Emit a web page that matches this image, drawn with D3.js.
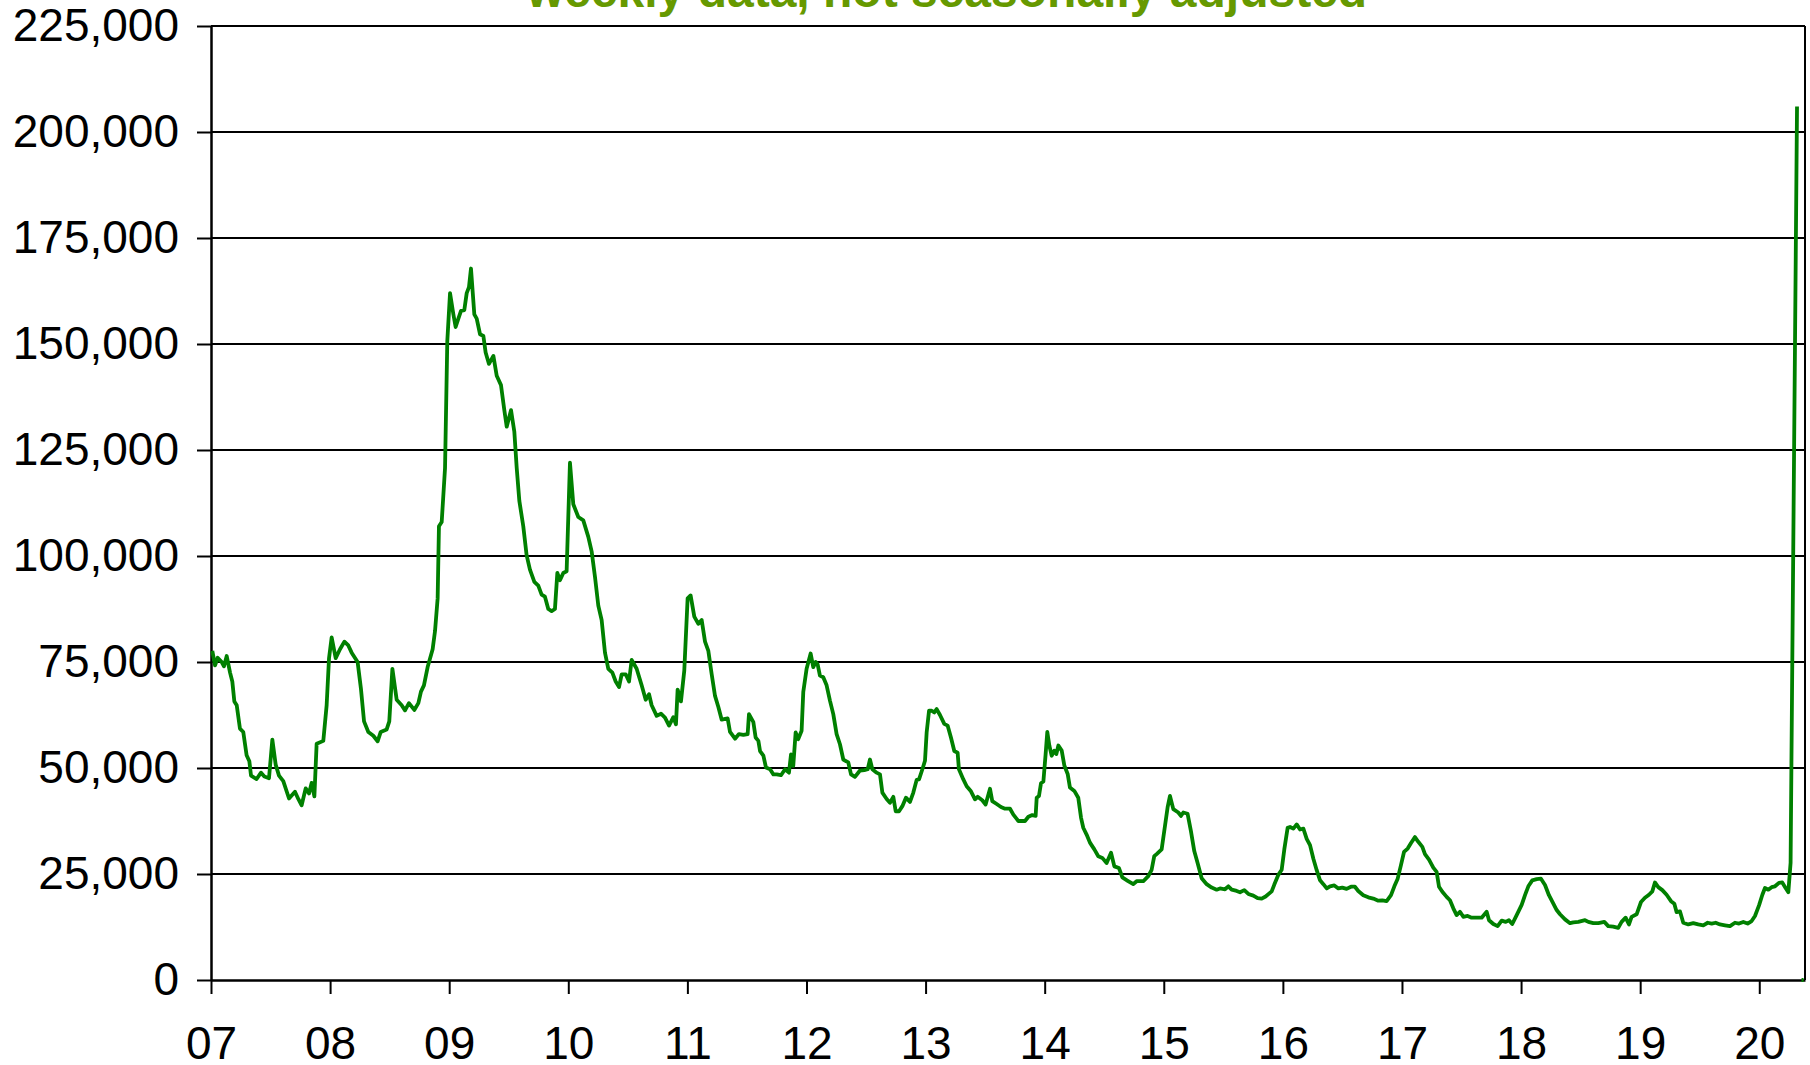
<!DOCTYPE html>
<html lang="en">
<head>
<meta charset="utf-8">
<title>Weekly claims</title>
<script src="https://d3js.org/d3.v7.min.js"></script>
<style>
  body { margin: 0; background: #fff; }
  svg text { font-family: "Liberation Sans", Arial, sans-serif; }
</style>
</head>
<body>
<div id="chart"></div>
<script type="text/javascript">
// weekly readings, [offset within the year, claims in thousands]
var claims2007 = [[.011,77.6],[.034,74.2],[.056,76.0],[.090,75.0],[.109,74.0],[.132,76.4],[.160,72.5],[.179,70.4],[.196,65.7],[.216,64.8],[.243,59.3],[.271,58.5],[.299,53.0],[.322,51.6],[.336,48.2],[.383,47.4],[.420,48.9],[.448,48.0],[.487,47.6],[.515,56.7],[.543,50.8],[.571,48.2],[.607,46.9],[.655,42.8],[.705,44.4],[.733,42.7],[.761,41.2],[.795,45.2],[.823,44.0],[.845,46.5],[.868,43.3],[.887,55.7],[.943,56.4],[.971,64.8],[.991,75.9]];
var claims2008 = [[.013,80.8],[.047,75.9],[.083,78.0],[.120,79.8],[.153,78.9],[.181,77.2],[.231,75.0],[.259,68.7],[.285,61.0],[.321,58.5],[.363,57.6],[.399,56.3],[.425,58.5],[.475,59.1],[.497,61.0],[.523,73.4],[.559,66.1],[.601,64.8],[.629,63.6],[.662,65.3],[.707,63.7],[.741,65.3],[.763,68.0],[.788,69.5],[.819,73.8],[.861,78.0],[.881,82.3],[.903,90.0],[.914,107],[.937,108],[.965,120.7],[.984,150.6]];
var claims2009 = [[.007,162],[.035,157],[.054,154],[.077,156],[.099,157.8],[.127,158],[.147,162],[.166,163.4],[.183,167.8],[.211,157],[.231,156],[.259,152.3],[.287,151.9],[.306,148],[.334,145.3],[.371,147.2],[.399,142.5],[.435,140.3],[.463,134.4],[.483,130.5],[.519,134.4],[.547,129.3],[.567,120.7],[.589,113],[.622,107],[.650,100.2],[.678,96.8],[.715,93.9],[.748,93.0],[.776,90.9],[.804,90.4],[.832,87.5],[.860,87.0],[.888,87.5],[.908,96.0],[.930,94.3],[.958,96.0],[.986,96.4]];
var claims2010 = [[.014,122],[.042,112.2],[.084,109.2],[.126,108.4],[.168,104.5],[.196,101.1],[.224,95.1],[.252,88.3],[.280,84.9],[.308,77.2],[.336,73.4],[.370,72.5],[.398,70.4],[.426,69.1],[.448,72.1],[.482,72.1],[.510,70.4],[.532,75.5],[.574,73.4],[.616,69.5],[.650,66.1],[.678,67.4],[.700,64.8],[.742,62.3],[.778,62.8],[.812,61.9],[.846,60.0],[.882,62.0],[.904,60.3],[.918,68.5],[.946,65.7],[.974,73.0]];
var claims2011 = [[.002,90.0],[.027,90.7],[.058,85.7],[.092,84.0],[.120,84.9],[.148,79.8],[.176,77.6],[.204,72.1],[.232,67.0],[.260,64.4],[.288,61.4],[.338,61.7],[.358,58.5],[.400,56.9],[.433,58.0],[.470,57.8],[.506,58.0],[.517,62.7],[.554,60.8],[.573,57.2],[.596,56.4],[.610,54.0],[.638,52.9],[.660,50.1],[.694,49.7],[.722,48.5],[.750,48.5],[.786,48.3],[.820,49.7],[.853,48.9],[.870,53.2],[.889,50.5],[.909,58.4],[.931,56.8],[.959,58.8],[.973,67.9]];
var claims2012 = [[.001,73.4],[.035,77.0],[.057,73.8],[.077,75.0],[.094,74.4],[.113,71.8],[.141,71.4],[.169,69.5],[.197,65.9],[.225,62.7],[.253,58.0],[.281,55.6],[.309,52.0],[.351,51.3],[.374,48.5],[.407,47.9],[.449,49.4],[.486,49.5],[.514,49.7],[.533,52.0],[.553,49.7],[.589,48.9],[.617,48.5],[.637,44.2],[.673,42.7],[.701,41.8],[.729,43.2],[.749,39.8],[.777,39.8],[.805,41.0],[.835,43.0],[.869,42.0],[.897,44.2],[.925,47.2],[.945,47.3],[.973,49.7],[.995,51.7]];
var claims2013 = [[.009,58.4],[.029,63.5],[.051,63.5],[.073,63.1],[.093,63.9],[.121,62.5],[.157,60.4],[.185,60.0],[.213,57.2],[.241,54.0],[.269,53.6],[.280,49.7],[.317,47.3],[.345,45.7],[.381,44.5],[.415,42.6],[.437,43.2],[.476,42.4],[.504,41.4],[.541,45.1],[.560,42.2],[.597,41.5],[.633,40.8],[.667,40.4],[.709,40.4],[.737,39.0],[.765,38.0],[.779,37.5],[.835,37.5],[.863,38.5],[.896,38.9],[.924,38.7],[.933,43.0],[.952,43.4],[.969,46.4],[.989,46.8]];
var claims2014 = [[.008,53.3],[.022,58.5],[.039,55.3],[.059,52.9],[.081,54.1],[.098,53.3],[.115,55.3],[.143,54.1],[.165,50.6],[.193,48.6],[.212,45.4],[.249,44.6],[.282,43.0],[.305,38.3],[.324,35.9],[.352,34.3],[.380,32.4],[.417,30.8],[.450,29.2],[.484,28.8],[.520,27.6],[.557,30.0],[.585,26.8],[.624,26.4],[.652,24.2],[.697,23.4],[.744,22.6],[.772,23.3],[.828,23.3],[.870,24.5],[.898,26.0],[.920,29.2],[.940,29.7],[.982,30.8]];
var claims2015 = [[.010,36.3],[.032,40.7],[.052,43.4],[.080,40.3],[.122,39.5],[.144,38.7],[.164,39.5],[.200,39.2],[.228,35.1],[.256,30.4],[.284,27.6],[.318,24.0],[.360,22.6],[.402,21.8],[.444,21.3],[.472,21.6],[.514,21.4],[.542,22.1],[.570,21.3],[.612,21.0],[.640,20.7],[.676,21.2],[.710,20.3],[.752,19.9],[.788,19.3],[.822,19.2],[.855,19.7],[.906,20.9],[.928,22.5],[.962,24.8],[.990,26.0]];
var claims2016 = [[.012,30.8],[.040,35.9],[.060,36.1],[.088,35.7],[.116,36.7],[.144,35.5],[.172,35.7],[.200,33.3],[.228,31.8],[.256,28.6],[.284,25.9],[.312,23.5],[.340,22.6],[.368,21.6],[.396,22.1],[.432,22.3],[.466,21.6],[.499,21.8],[.535,21.5],[.572,22.0],[.605,22.0],[.633,21.0],[.675,20.0],[.717,19.5],[.759,19.2],[.801,18.7],[.835,18.8],[.871,18.6],[.908,20.0],[.936,22.1],[.964,23.9],[.989,26.8]];
var claims2017 = [[.017,30.2],[.048,31.0],[.076,32.3],[.109,33.7],[.137,32.6],[.171,31.4],[.193,29.7],[.227,28.4],[.263,26.5],[.291,25.5],[.311,22.0],[.339,20.8],[.375,19.6],[.403,18.8],[.431,16.9],[.459,15.3],[.487,16.1],[.515,14.9],[.551,15.1],[.585,14.7],[.627,14.7],[.669,14.7],[.711,16.1],[.731,14.1],[.767,13.2],[.803,12.7],[.837,14.0],[.871,13.7],[.898,14.1],[.926,13.2],[.963,15.3]];
var claims2018 = [[.005,17.7],[.033,20.0],[.061,22.1],[.094,23.5],[.131,23.8],[.167,23.9],[.201,22.4],[.234,20.0],[.271,18.0],[.299,16.5],[.327,15.5],[.369,14.3],[.411,13.4],[.439,13.6],[.481,13.7],[.537,14.1],[.565,13.7],[.607,13.4],[.649,13.4],[.699,13.7],[.732,12.7],[.774,12.6],[.816,12.3],[.844,13.7],[.878,14.7],[.906,13.1],[.928,14.9],[.970,15.5]];
var claims2019 = [[.007,18.4],[.040,19.4],[.074,20.1],[.102,20.9],[.124,23.0],[.152,21.9],[.186,21.2],[.222,20.1],[.259,18.6],[.287,18.0],[.306,16.0],[.334,16.2],[.362,13.5],[.404,13.1],[.446,13.4],[.488,13.1],[.530,12.9],[.567,13.5],[.600,13.3],[.634,13.5],[.670,13.1],[.712,12.9],[.754,12.7],[.796,13.5],[.830,13.3],[.866,13.7],[.902,13.3],[.936,13.9],[.964,15.1],[.998,17.6]];
var claims2020 = [[.026,20.1],[.048,21.7],[.076,21.3],[.104,21.9],[.132,22.1],[.165,22.9],[.193,23.0],[.221,21.7],[.244,20.7],[.263,27.6],[.317,206],[.336,null],[.355,0],[.372,0]];

var years = [2007,2008,2009,2010,2011,2012,2013,2014,2015,2016,2017,2018,2019,2020];
var yearData = [claims2007,claims2008,claims2009,claims2010,claims2011,claims2012,claims2013,claims2014,claims2015,claims2016,claims2017,claims2018,claims2019,claims2020];
var yTicks = [0,25,50,75,100,125,150,175,200,225]; // thousands
var title = "weekly data, not seasonally adjusted";

// flatten into one weekly series
var series = [];
years.forEach(function(yr, i){
    yearData[i].forEach(function(p){ series.push({t: yr + p[0], v: p[1]}); });
});

var svg = d3.select('#chart').append("svg").attr("width", 1810).attr("height", 1065);

var x = d3.scaleLinear().domain([2007, 2020.384]).range([211, 1805]);
var y = d3.scaleLinear().domain([0, 225]).range([980, 26]);

// horizontal grid lines
svg.append("g").selectAll("line").data(yTicks.slice(1)).join("line")
    .attr("x1", x.range()[0]).attr("x2", x.range()[1])
    .attr("y1", function(d){ return y(d); }).attr("y2", function(d){ return y(d); })
    .attr("stroke", "#000").attr("stroke-width", 2);

// right frame
svg.append("line").attr("x1", 1805).attr("x2", 1805).attr("y1", y(225)).attr("y2", y(0))
    .attr("stroke", "#000").attr("stroke-width", 2);

var yAxis = svg.append("g").attr("transform", "translate(" + x.range()[0] + ",0)")
    .call(d3.axisLeft(y).tickValues(yTicks).tickSize(14).tickSizeOuter(0).tickPadding(18)
        .tickFormat(function(d){ return d3.format(",")(d * 1000); }));

var xAxis = svg.append("g").attr("transform", "translate(0," + y(0) + ")")
    .call(d3.axisBottom(x).tickValues(years).tickSize(14).tickSizeOuter(0).tickPadding(32)
        .tickFormat(function(d){ return String(d).slice(2); }));

[yAxis, xAxis].forEach(function(a){
    a.selectAll("path.domain").attr("stroke", "#000").attr("stroke-width", 2.5);
    a.selectAll(".tick line").attr("stroke", "#000").attr("stroke-width", 2);
    a.selectAll("text").attr("fill", "#000").style("font-size", "46px");
});

var line = d3.line()
    .defined(function(d){ return d.v != null; })
    .x(function(d){ return x(d.t); })
    .y(function(d){ return y(d.v); });

svg.append("path").datum(series)
    .attr("d", line)
    .attr("fill", "none")
    .attr("stroke", "#008000")
    .attr("stroke-width", 3.8)
    .attr("stroke-linejoin", "round");

// title, cut off by the top of the picture
svg.append("text").attr("x", 947).attr("y", 7)
    .attr("text-anchor", "middle")
    .style("font-size", "48px").style("font-weight", "bold")
    .attr("fill", "#669900")
    .text(title);
</script>
</body>
</html>
